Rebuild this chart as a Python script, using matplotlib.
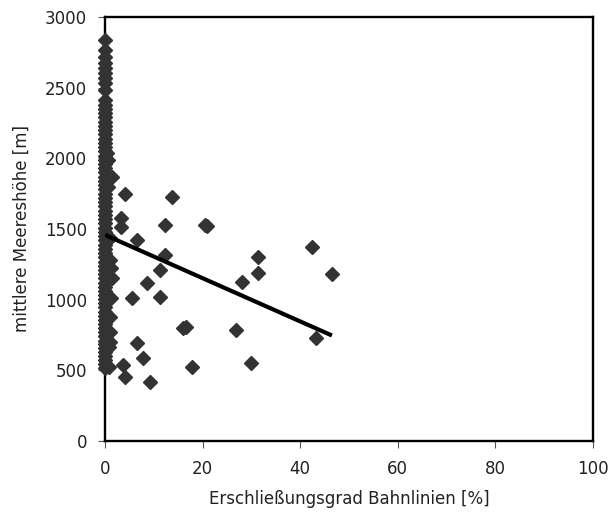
import numpy as np
import matplotlib
matplotlib.use("Agg")
import matplotlib.pyplot as plt

# Gemeinden: Erschliessungsgrad Bahnlinien [%] vs. mittlere Meereshoehe [m]

# communes without rail access (x = 0)
hoehe_ohne_bahn = [
    520, 545, 575, 600, 630, 655, 685, 710, 740, 770, 800, 830, 855, 885,
    915, 945, 975, 1005, 1035, 1060, 1090, 1120, 1150, 1180, 1210, 1240,
    1270, 1300, 1330, 1360, 1390, 1420, 1450, 1480, 1510, 1540, 1570, 1600,
    1630, 1660, 1690, 1720, 1750, 1780, 1810, 1840, 1870, 1900, 1930, 1960,
    1990, 2020, 2050, 2080, 2110, 2140, 2170, 2200, 2230, 2260, 2290, 2320,
    2350, 2380, 2410, 2485, 2535, 2570, 2605, 2640, 2675, 2715, 2765, 2840,
]

# communes with rail lines
bahn_anteil = [
    0.6, 0.5, 0.7, 1.0, 1.0, 1.5, 1.2, 1.2, 1.0, 1.1, 0.8, 0.9, 1.0,
    1.5, 4.0, 3.2, 3.2, 13.8, 6.6, 12.3, 20.8, 20.5,
    12.2, 11.3, 8.6, 5.5, 11.3, 15.9, 16.5, 6.6, 7.8, 17.8, 4.1, 9.2, 3.7,
    42.4, 31.4, 46.5, 31.4, 28.1, 26.8, 43.2, 29.9,
]
bahn_hoehe = [
    1990, 2040, 1800, 1437, 1280, 1153, 1225, 1012, 877, 771, 665, 524, 700,
    1870, 1745, 1580, 1515, 1725, 1422, 1528, 1521, 1525,
    1316, 1210, 1118, 1012, 1019, 800, 807, 693, 587, 524, 453, 418, 537,
    1373, 1302, 1182, 1189, 1125, 786, 729, 552,
]

# linear trend line
trend_achsabschnitt = 1458
trend_steigung = -15.3

x_ticks = [0, 20, 40, 60, 80, 100]
y_ticks = [0, 500, 1000, 1500, 2000, 2500, 3000]

plt.rcParams['font.family'] = ['DejaVu Sans']

fig = plt.figure(figsize=(6.13, 5.15), dpi=100, facecolor='w')
ax = fig.add_axes([0.1713, 0.1437, 0.7961, 0.8233])

mcol = '#333333'
ax.plot(np.zeros(len(hoehe_ohne_bahn)), hoehe_ohne_bahn, linestyle='none',
        marker='D', ms=7.5, color=mcol, mec=mcol, clip_on=False, zorder=3)
ax.plot(bahn_anteil, bahn_hoehe, linestyle='none',
        marker='D', ms=7.5, color=mcol, mec=mcol, clip_on=False, zorder=3)

x_max = max(bahn_anteil)
tx = np.array([0, x_max])
ax.plot(tx, trend_achsabschnitt + trend_steigung * tx, color='black', lw=3,
        solid_capstyle='butt', zorder=4)

ax.set_xlim(0, 100)
ax.set_ylim(0, 3000)
ax.set_xticks(x_ticks)
ax.set_yticks(y_ticks)

for s in ax.spines.values():
    s.set_linewidth(1.7)
    s.set_color('black')

ax.tick_params(axis='both', direction='out', length=5, width=0.8,
               color='#555555', labelsize=12, labelcolor='#222222')
ax.tick_params(axis='x', pad=9)
ax.tick_params(axis='y', pad=8)

ax.set_xlabel('Erschließungsgrad Bahnlinien [%]', fontsize=12, labelpad=8,
              color='#222222')
ax.set_ylabel('mittlere Meereshöhe [m]', fontsize=12, labelpad=10,
              color='#222222')

fig.savefig('out.png', dpi=100)
